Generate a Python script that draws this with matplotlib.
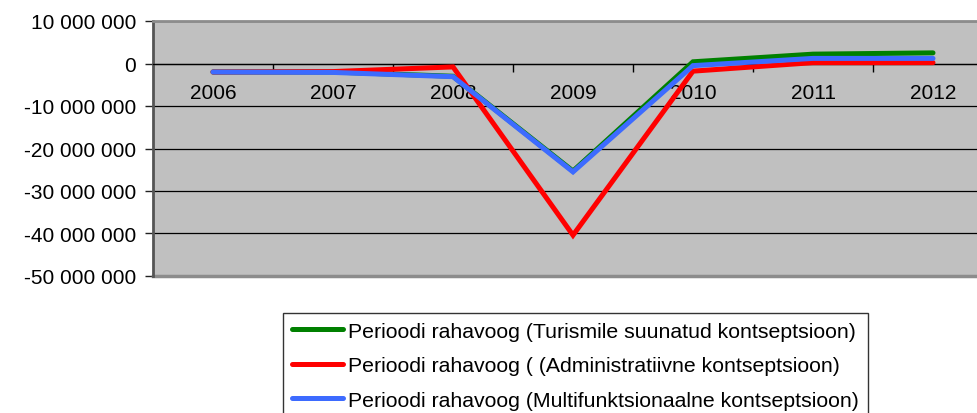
import matplotlib
matplotlib.use("Agg")
import matplotlib.pyplot as plt
from matplotlib.ticker import FuncFormatter, FixedLocator

years = ["2006", "2007", "2008", "2009", "2010", "2011", "2012"]
turism = [-2.0e6, -2.0e6, -3.0e6, -25.3e6, 0.4e6, 2.2e6, 2.5e6]
admin = [-2.0e6, -1.9e6, -0.8e6, -40.4e6, -1.8e6, 0.2e6, 0.2e6]
multi = [-2.0e6, -2.1e6, -3.1e6, -25.5e6, -0.5e6, 1.2e6, 1.2e6]
labels = [
    "Perioodi rahavoog (Turismile suunatud kontseptsioon)",
    "Perioodi rahavoog ( (Administratiivne kontseptsioon)",
    "Perioodi rahavoog (Multifunktsionaalne kontseptsioon)",
]
colors = ["#008000", "#FF0000", "#3D6BFF"]

plt.rcParams["font.family"] = ["Liberation Sans", "DejaVu Sans"]
fs = 15

fig = plt.figure(figsize=(9.78, 4.14), dpi=100)
W, H = 978, 414
ax = fig.add_axes([153 / W, 1 - 277 / H, 840 / W, 255 / H])
ax.set_facecolor("#C0C0C0")

x = list(range(len(years)))
for ys, c, lab in zip([turism, admin, multi], colors, labels):
    ax.plot(x, ys, color=c, lw=3.6, label=lab, solid_capstyle="round",
            solid_joinstyle="miter", zorder=3)

ax.set_xlim(-0.5, len(years) - 0.5)
ax.set_ylim(-50e6, 10e6)
yt = [10e6, 0, -10e6, -20e6, -30e6, -40e6, -50e6]
ax.set_yticks(yt)
ax.yaxis.set_major_formatter(FuncFormatter(lambda v, p: f"{int(round(v)):,}".replace(",", " ")))
ax.grid(axis="y", color="black", lw=0.9, zorder=1)
ax.set_axisbelow(True)

ax.set_xticks(x)
ax.set_xticklabels(years)
ax.xaxis.set_minor_locator(FixedLocator([i + 0.5 for i in range(len(years) - 1)]))
ax.tick_params(axis="x", which="major", length=0, pad=14, labelsize=fs)
ax.tick_params(axis="x", which="minor", length=6, width=1, color="black", direction="out")
ax.tick_params(axis="y", length=6, width=1, color="#222222", pad=6, labelsize=fs)

ax.spines["bottom"].set_position(("data", 0))
ax.spines["bottom"].set_color("black")
ax.spines["bottom"].set_linewidth(0.9)
ax.spines["left"].set_color("#555555")
ax.spines["left"].set_linewidth(2)
ax.spines["top"].set_color("#8C8C8C")
ax.spines["top"].set_linewidth(2)
ax.spines["right"].set_color("#8C8C8C")
ax.spines["right"].set_linewidth(2)
ax.axhline(-50e6, color="#8C8C8C", lw=2.5, zorder=2, clip_on=False)

leg = fig.legend(loc="upper left", bbox_to_anchor=(283 / W, 1 - 314 / H),
                 fontsize=15.3, frameon=True, fancybox=False, edgecolor="black",
                 handlelength=2.4, handletextpad=0.25, labelspacing=0.72,
                 borderpad=0.42, borderaxespad=0)
leg.get_frame().set_linewidth(1.0)
for l in leg.get_lines():
    l.set_linewidth(3.6)

fig.savefig("out.png", dpi=100)
